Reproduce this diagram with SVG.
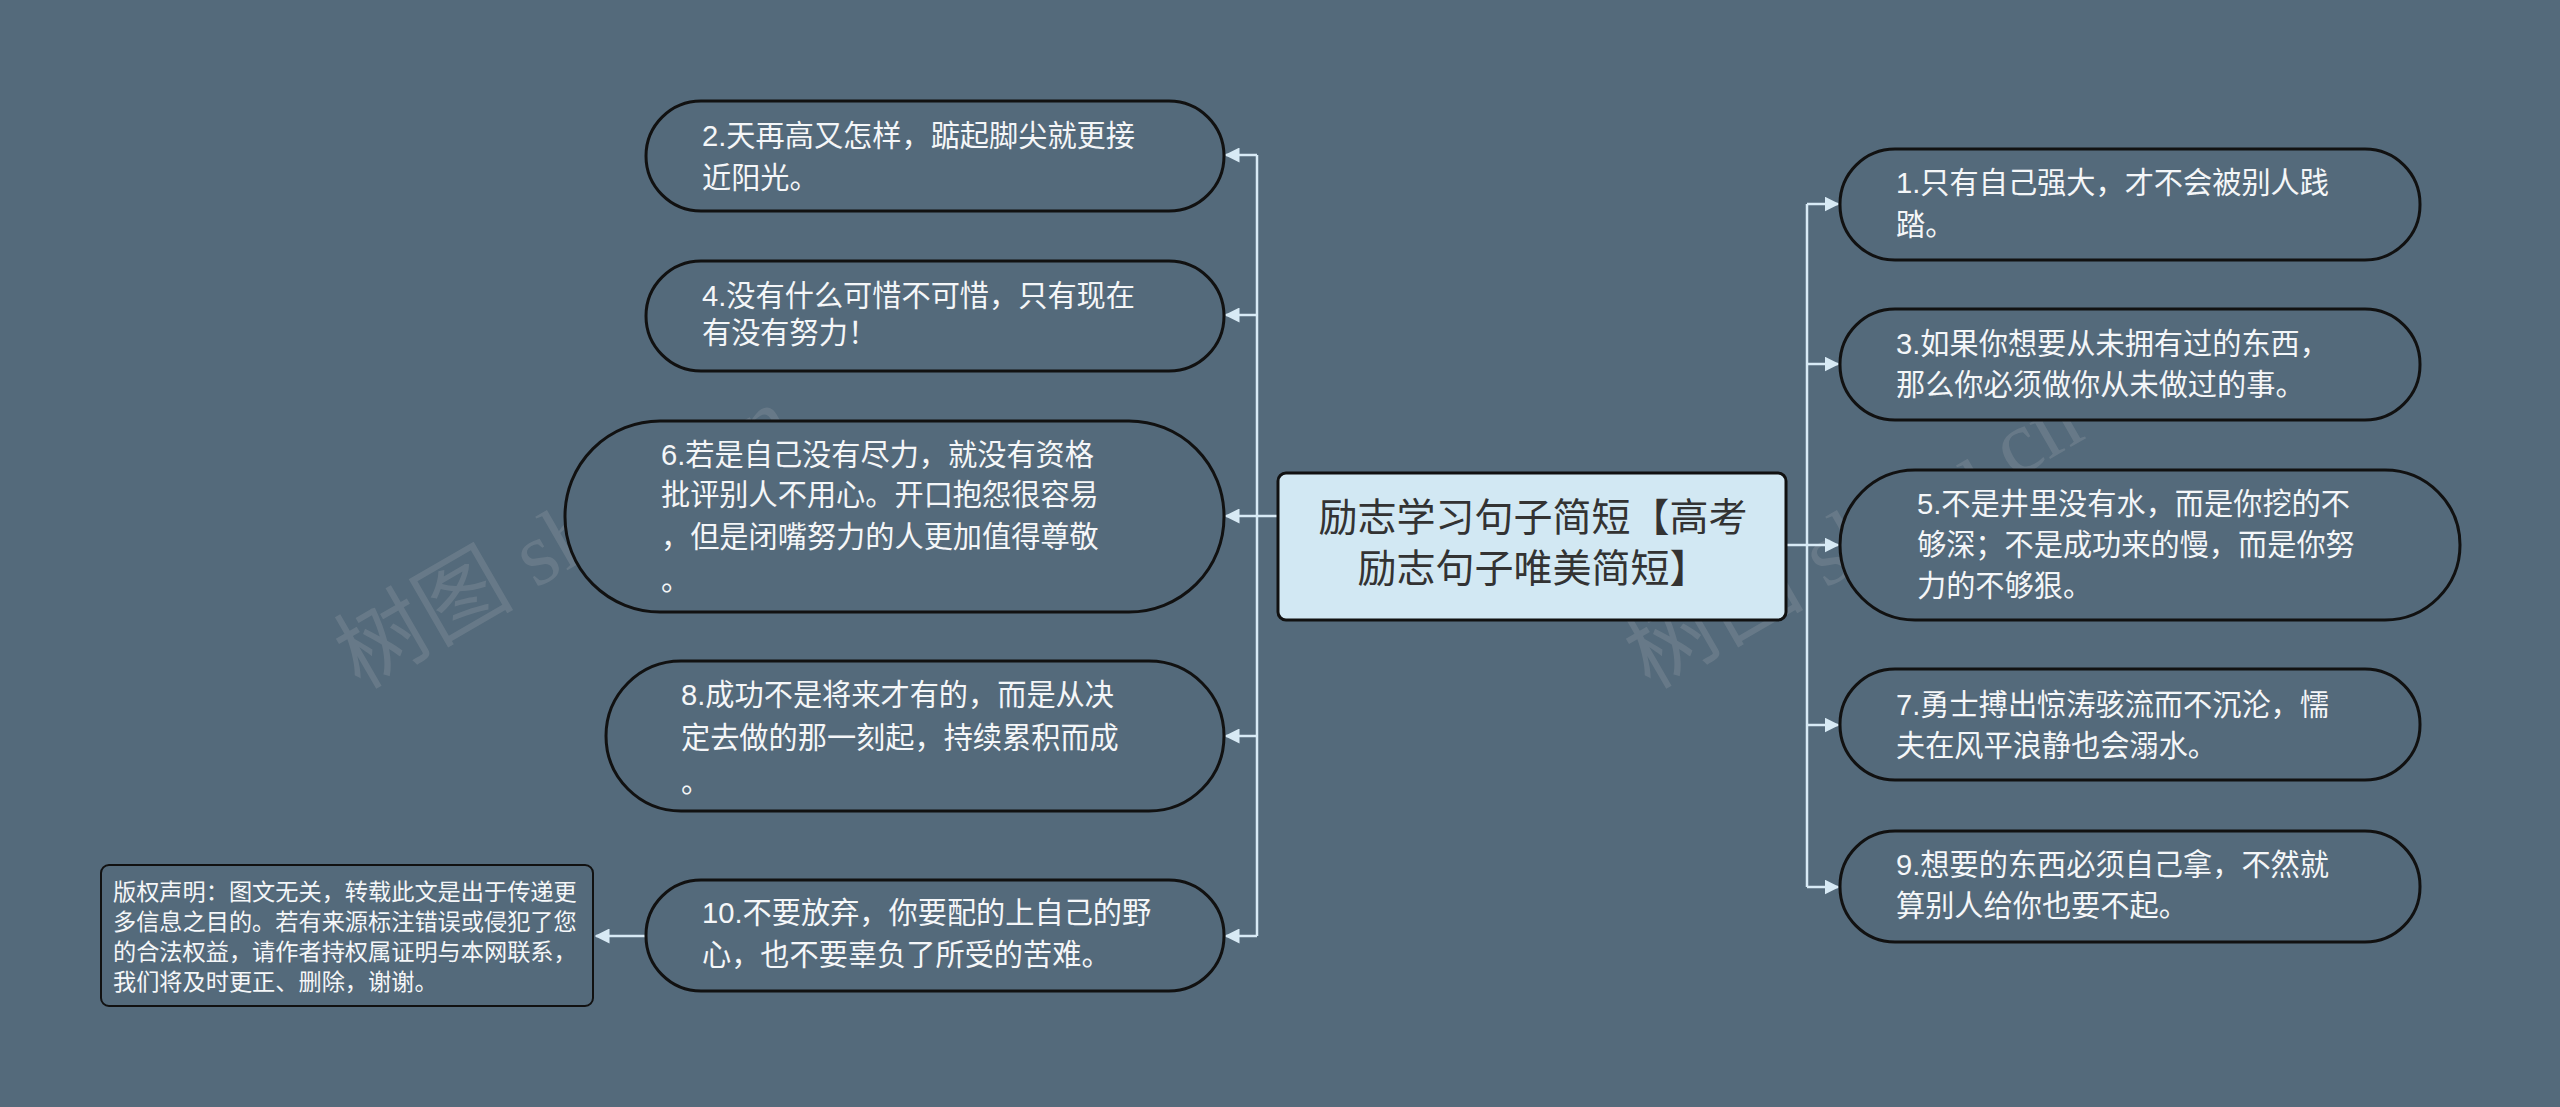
<svg xmlns="http://www.w3.org/2000/svg" width="2560" height="1107" viewBox="0 0 2560 1107">
<style>
.n{fill:#546a7b;stroke:#111;stroke-width:3}
.t{font-family:"Liberation Sans","Noto Sans CJK SC",sans-serif;font-size:29.2px;fill:#f4f6f8}
.c{font-family:"Liberation Sans","Noto Sans CJK SC",sans-serif;font-size:23.2px;fill:#f4f6f8}
.w{font-family:"Liberation Serif","Noto Sans CJK SC",serif;font-size:90px;fill:#7f8d98;opacity:0.45}
.l{stroke:#d8eaf5;stroke-width:2.5;fill:none}
</style>
<defs><marker id="a" viewBox="0 0 10 10" refX="9" refY="5" markerWidth="6" markerHeight="6" orient="auto"><path d="M0,0L10,5L0,10z" fill="#d8eaf5"/></marker></defs>
<rect width="2560" height="1107" fill="#546a7b"/>
<text class="w" transform="translate(360,690) rotate(-30)">树图 shutu.cn</text>
<text class="w" transform="translate(1650,690) rotate(-30)">树图 shutu.cn</text>
<g id="connectors">
<path class="l" d="M1278,516H1257M1257,155V936"/>
<path class="l" marker-end="url(#a)" d="M1257,155H1226"/>
<path class="l" marker-end="url(#a)" d="M1257,315H1226"/>
<path class="l" marker-end="url(#a)" d="M1257,516H1226"/>
<path class="l" marker-end="url(#a)" d="M1257,736H1226"/>
<path class="l" marker-end="url(#a)" d="M1257,936H1226"/>
<path class="l" marker-end="url(#a)" d="M646,936H596"/>
<path class="l" d="M1786,545H1807M1807,204V887"/>
<path class="l" marker-end="url(#a)" d="M1807,204H1838"/>
<path class="l" marker-end="url(#a)" d="M1807,364H1838"/>
<path class="l" marker-end="url(#a)" d="M1807,545H1838"/>
<path class="l" marker-end="url(#a)" d="M1807,725H1838"/>
<path class="l" marker-end="url(#a)" d="M1807,887H1838"/>
</g>
<g id="center"><rect x="1278" y="473" width="508" height="147" rx="8" fill="#d2e8f3" stroke="#111" stroke-width="3"/>
<text x="1533" y="531" text-anchor="middle" font-family="Liberation Sans,Noto Sans CJK SC,sans-serif" font-size="39" fill="#333">励志学习句子简短【高考</text>
<text x="1533" y="582" text-anchor="middle" font-family="Liberation Sans,Noto Sans CJK SC,sans-serif" font-size="39" fill="#333">励志句子唯美简短】</text></g>
<g id="n2"><rect class="n" x="646" y="101" width="578" height="110" rx="55"/><text class="t" x="702" y="146">2.天再高又怎样，踮起脚尖就更接</text><text class="t" x="702" y="188">近阳光。</text></g>
<g id="n4"><rect class="n" x="646" y="261" width="578" height="110" rx="55"/><text class="t" x="702" y="306">4.没有什么可惜不可惜，只有现在</text><text class="t" x="702" y="343">有没有努力！</text></g>
<g id="n6"><rect class="n" x="565" y="421" width="659" height="191" rx="95"/><text class="t" x="661" y="465">6.若是自己没有尽力，就没有资格</text><text class="t" x="661" y="505">批评别人不用心。开口抱怨很容易</text><text class="t" x="661" y="547">，但是闭嘴努力的人更加值得尊敬</text><text class="t" x="661" y="590">。</text></g>
<g id="n8"><rect class="n" x="606" y="661" width="618" height="150" rx="75"/><text class="t" x="681" y="705">8.成功不是将来才有的，而是从决</text><text class="t" x="681" y="748">定去做的那一刻起，持续累积而成</text><text class="t" x="681" y="792">。</text></g>
<g id="n10"><rect class="n" x="646" y="880" width="578" height="111" rx="55"/><text class="t" x="702" y="923">10.不要放弃，你要配的上自己的野</text><text class="t" x="702" y="965">心，也不要辜负了所受的苦难。</text></g>
<g id="copyright"><rect x="101" y="865" width="492" height="141" rx="8" fill="#546a7b" stroke="#111" stroke-width="2"/><text class="c" x="113" y="900">版权声明：图文无关，转载此文是出于传递更</text><text class="c" x="113" y="930">多信息之目的。若有来源标注错误或侵犯了您</text><text class="c" x="113" y="960">的合法权益，请作者持权属证明与本网联系，</text><text class="c" x="113" y="990">我们将及时更正、删除，谢谢。</text></g>
<g id="n1"><rect class="n" x="1840" y="149" width="580" height="111" rx="55"/><text class="t" x="1896" y="193">1.只有自己强大，才不会被别人践</text><text class="t" x="1896" y="235">踏。</text></g>
<g id="n3"><rect class="n" x="1840" y="309" width="580" height="111" rx="55"/><text class="t" x="1896" y="354">3.如果你想要从未拥有过的东西，</text><text class="t" x="1896" y="395">那么你必须做你从未做过的事。</text></g>
<g id="n5"><rect class="n" x="1840" y="470" width="620" height="150" rx="75"/><text class="t" x="1917" y="514">5.不是井里没有水，而是你挖的不</text><text class="t" x="1917" y="555">够深；不是成功来的慢，而是你努</text><text class="t" x="1917" y="596">力的不够狠。</text></g>
<g id="n7"><rect class="n" x="1840" y="669" width="580" height="111" rx="55"/><text class="t" x="1896" y="715">7.勇士搏出惊涛骇流而不沉沦，懦</text><text class="t" x="1896" y="756">夫在风平浪静也会溺水。</text></g>
<g id="n9"><rect class="n" x="1840" y="831" width="580" height="111" rx="55"/><text class="t" x="1896" y="875">9.想要的东西必须自己拿，不然就</text><text class="t" x="1896" y="916">算别人给你也要不起。</text></g>
</svg>
